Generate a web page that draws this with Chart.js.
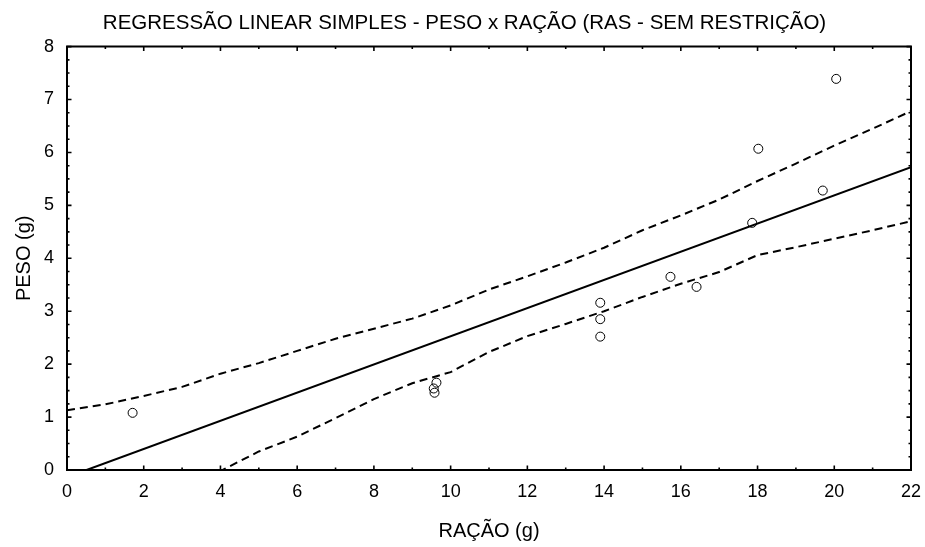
<!DOCTYPE html>
<html>
<head>
<meta charset="utf-8">
<script src="https://cdn.jsdelivr.net/npm/chart.js@4/dist/chart.umd.min.js"></script>
<style>
  html, body { margin: 0; padding: 0; background: #fff; }
  #wrap { width: 925px; height: 547px; }
</style>
</head>
<body>
<div id="wrap"><canvas id="regChart" width="925" height="547"></canvas></div>
<script>
// observed points
const racao = [1.71, 9.56, 9.63, 9.58, 13.9, 13.9, 13.9, 15.73, 16.41, 17.86, 18.02, 19.7, 20.05];
const peso = [1.08, 1.54, 1.65, 1.46, 3.16, 2.85, 2.52, 3.65, 3.46, 4.67, 6.07, 5.28, 7.39];

// fitted line, read at its two ends
const fitX = [0.51, 22];
const fitY = [0, 5.72];

// confidence band
const upperX = [0, 1, 2, 3, 4, 5, 6, 7, 8, 9, 10, 11, 12, 13, 14, 15, 16, 17, 18, 19, 20, 21, 22];
const upperY = [1.13, 1.24, 1.40, 1.57, 1.82, 2.02, 2.25, 2.48, 2.67, 2.86, 3.11, 3.41, 3.66, 3.92, 4.20, 4.53, 4.81, 5.11, 5.46, 5.79, 6.13, 6.45, 6.78];
const lowerX = [3, 4, 5, 6, 7, 8, 9, 10, 11, 12, 13, 14, 15, 16, 17, 18, 19, 20, 21, 22];
const lowerY = [-0.30, -0.02, 0.35, 0.63, 0.98, 1.34, 1.64, 1.85, 2.23, 2.53, 2.76, 3.00, 3.27, 3.52, 3.74, 4.06, 4.21, 4.37, 4.53, 4.70];

const xTicks = [0, 2, 4, 6, 8, 10, 12, 14, 16, 18, 20, 22];
const yTicks = [0, 1, 2, 3, 4, 5, 6, 7, 8];

const toPts = (xs, ys) => xs.map((x, i) => ({ x: x, y: ys[i] }));

// frame + inward ticks on all four sides, like the original
const framePlugin = {
    id: "frameTicks",
    afterDatasetsDraw(chart) {
        const { ctx, chartArea: a, scales } = chart;
        const xs = scales.x, ys = scales.y;
        ctx.save();
        ctx.strokeStyle = "#000";
        ctx.lineWidth = 2;
        ctx.beginPath();
        ctx.rect(a.left, a.top, a.right - a.left, a.bottom - a.top);
        ctx.stroke();

        ctx.lineWidth = 1.6;
        ctx.beginPath();
        for (let v = xs.min; v <= xs.max + 1e-6; v += 1) {
            const len = (Math.round(v) % 2 === 0) ? 4.5 : 2.5;
            const px = xs.getPixelForValue(v);
            ctx.moveTo(px, a.bottom); ctx.lineTo(px, a.bottom - len);
            ctx.moveTo(px, a.top); ctx.lineTo(px, a.top + len);
        }
        for (let v = ys.min; v <= ys.max + 1e-6; v += 0.25) {
            const major = Math.abs(v - Math.round(v)) < 1e-6;
            const len = major ? 4.5 : 2.5;
            const py = ys.getPixelForValue(v);
            ctx.moveTo(a.left, py); ctx.lineTo(a.left + len, py);
            ctx.moveTo(a.right, py); ctx.lineTo(a.right - len, py);
        }
        ctx.stroke();
        ctx.restore();
    }
};

const fontFam = "'Liberation Sans', Arial, sans-serif";

new Chart(document.getElementById("regChart"), {
    type: "scatter",
    data: {
        datasets: [
            {
                label: "obs",
                data: toPts(racao, peso),
                pointStyle: "circle",
                pointRadius: 4.5,
                pointBorderWidth: 1,
                pointBorderColor: "#000",
                pointBackgroundColor: "rgba(0,0,0,0)",
                order: 0
            },
            {
                label: "fit",
                data: toPts(fitX, fitY),
                showLine: true,
                borderColor: "#000",
                borderWidth: 2,
                pointRadius: 0,
                order: 1
            },
            {
                label: "upper",
                data: toPts(upperX, upperY),
                showLine: true,
                borderColor: "#000",
                borderWidth: 2,
                borderDash: [8, 5],
                pointRadius: 0,
                order: 2
            },
            {
                label: "lower",
                data: toPts(lowerX, lowerY),
                showLine: true,
                borderColor: "#000",
                borderWidth: 2,
                borderDash: [8, 5],
                pointRadius: 0,
                order: 3
            }
        ]
    },
    options: {
        responsive: false,
        devicePixelRatio: 1,
        animation: false,
        layout: { padding: { left: 18, right: 14, top: 0, bottom: 0 } },
        plugins: {
            legend: { display: false },
            tooltip: { enabled: false },
            title: {
                display: true,
                text: "REGRESSÃO LINEAR SIMPLES - PESO x RAÇÃO (RAS - SEM RESTRIÇÃO)",
                color: "#000",
                font: { family: fontFam, size: 20.5, weight: "normal" },
                padding: { top: 11, bottom: 11 }
            }
        },
        scales: {
            x: {
                type: "linear",
                min: 0,
                max: 22,
                afterBuildTicks: (s) => { s.ticks = xTicks.map(v => ({ value: v })); },
                afterFit: (s) => { s.height = 77; s.paddingLeft = 0; s.paddingRight = 0; },
                grid: { display: false, drawTicks: false },
                border: { display: false },
                ticks: {
                    color: "#000",
                    padding: 11,
                    maxRotation: 0,
                    font: { family: fontFam, size: 18 }
                },
                title: {
                    display: true,
                    text: "RAÇÃO (g)",
                    color: "#000",
                    font: { family: fontFam, size: 20 },
                    padding: { top: 0, bottom: 4 }
                }
            },
            y: {
                type: "linear",
                min: 0,
                max: 8,
                afterBuildTicks: (s) => { s.ticks = yTicks.map(v => ({ value: v })); },
                afterFit: (s) => { s.width = 49; },
                grid: { display: false, drawTicks: false },
                border: { display: false },
                ticks: {
                    color: "#000",
                    padding: 13,
                    font: { family: fontFam, size: 18 }
                },
                title: {
                    display: true,
                    text: "PESO (g)",
                    color: "#000",
                    font: { family: fontFam, size: 20 },
                    padding: { top: -6, bottom: 0 }
                }
            }
        }
    },
    plugins: [framePlugin]
});
</script>
</body>
</html>
